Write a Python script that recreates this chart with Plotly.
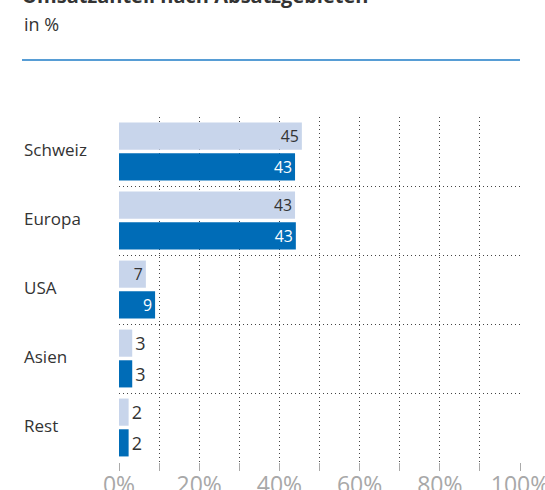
import plotly.graph_objects as go

categories = ["Schweiz", "Europa", "USA", "Asien", "Rest"]
prev_year = [45.6, 43.9, 6.7, 3.3, 2.4]
curr_year = [43.9, 44.1, 9.0, 3.3, 2.4]
prev_labels = ["45", "43", "7", "3", "2"]
curr_labels = ["43", "43", "9", "3", "2"]
series_names = ["Vorjahr", "Berichtsjahr"]
x_ticks = [0, 20, 40, 60, 80, 100]
x_tick_labels = ["0%", "20%", "40%", "60%", "80%", "100%"]

FONT = "Open Sans"
LIGHT = "#c8d5eb"
DARK = "#006cb7"
TXT = "#333333"

fig = go.Figure()
fig.add_trace(go.Bar(
    y=categories, x=prev_year, name=series_names[0], orientation="h",
    marker=dict(color=LIGHT, line=dict(width=0)),
    text=prev_labels, textposition="auto", insidetextanchor="end", textangle=0,
    insidetextfont=dict(color=TXT, size=18, family=FONT),
    outsidetextfont=dict(color=TXT, size=18, family=FONT),
    cliponaxis=False, hoverinfo="skip",
))
fig.add_trace(go.Bar(
    y=categories, x=curr_year, name=series_names[1], orientation="h",
    marker=dict(color=DARK, line=dict(width=0)),
    text=curr_labels, textposition="auto", insidetextanchor="end", textangle=0,
    insidetextfont=dict(color="white", size=18, family=FONT),
    outsidetextfont=dict(color=TXT, size=18, family=FONT),
    cliponaxis=False, hoverinfo="skip",
))

GRID = "#444444"
fig.update_layout(
    width=545, height=490,
    margin=dict(l=119, r=25, t=117, b=28, autoexpand=False),
    paper_bgcolor="white", plot_bgcolor="white",
    barmode="group", bargap=0.11, bargroupgap=0.115,
    showlegend=False,
    font=dict(family=FONT, color=TXT, size=17),
    title=dict(text="<b>Umsatzanteil nach Absatzgebieten</b>",
               x=22 / 545, xanchor="left", xref="container",
               y=1 - 3 / 490, yanchor="bottom", yref="container",
               font=dict(size=20, color=TXT, family=FONT)),
    xaxis=dict(
        range=[0, 100], tickvals=x_ticks, ticktext=x_tick_labels,
        showgrid=True, gridcolor=GRID, griddash="1px,3px", gridwidth=1,
        zeroline=False, showline=False,
        ticks="outside", ticklen=8, tickcolor="#aaaaaa", tickwidth=1,
        ticklabelstandoff=-6, ticklabeloverflow="allow",
        tickfont=dict(size=23, color="#a8a8a8", family=FONT),
        minor=dict(dtick=10, tick0=0, showgrid=True, gridcolor=GRID,
                   griddash="1px,3px", gridwidth=1,
                   ticks="outside", ticklen=8, tickcolor="#aaaaaa"),
        automargin=False, fixedrange=True,
    ),
    yaxis=dict(
        autorange="reversed", type="category",
        tickson="boundaries", showgrid=True, gridcolor=GRID,
        griddash="1px,3px", gridwidth=1,
        showticklabels=False, ticks="", zeroline=False, showline=False,
        automargin=False, fixedrange=True,
    ),
)

# category labels, left aligned
for c in categories:
    fig.add_annotation(text=c, x=-97 / 401, xref="paper", y=c, yref="y",
                       xanchor="left", yanchor="middle", yshift=2, showarrow=False,
                       font=dict(size=17, color=TXT, family=FONT))

fig.add_annotation(text="in %", x=-97 / 401, xref="paper", y=1 + (117 - 31) / 345,
                   yref="paper", xanchor="left", yanchor="bottom", yshift=-7,
                   showarrow=False, font=dict(size=18, color=TXT, family=FONT))

fig.add_shape(type="line", xref="paper", yref="paper",
              x0=-97 / 401, x1=1, y0=1 + (117 - 60) / 345, y1=1 + (117 - 60) / 345,
              line=dict(color="#1f7dc7", width=1.5))

fig.write_html("out.html", config={"displayModeBar": False})
